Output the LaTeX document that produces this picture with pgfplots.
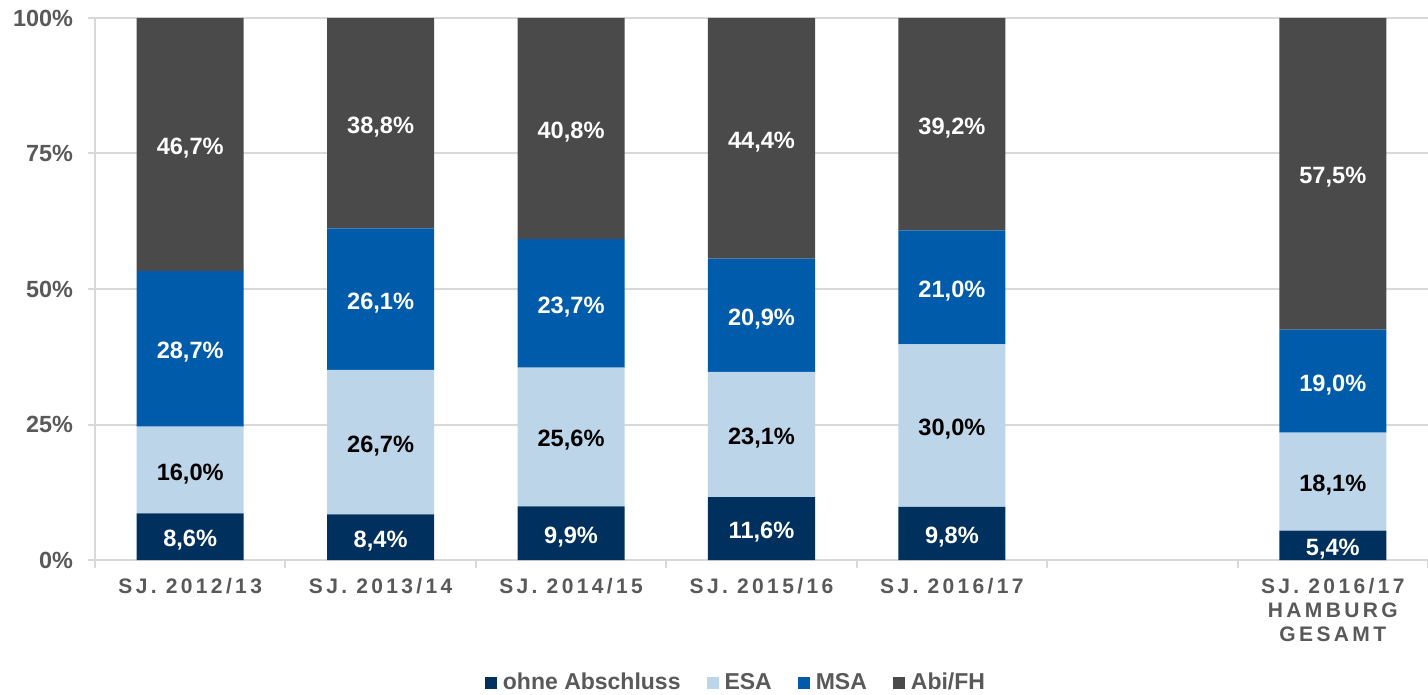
\documentclass[border=0pt]{standalone}
\usepackage{fontspec}
\setmainfont{Liberation Sans}
\newfontfamily\spacedfont[LetterSpace=16]{Liberation Sans}
\usepackage{pgfplots}
\usepackage{pgfplotstable}
\pgfplotsset{compat=1.18}
\definecolor{cOhne}{HTML}{00305E}
\definecolor{cEsa}{HTML}{BDD5E8}
\definecolor{cMsa}{HTML}{005BAA}
\definecolor{cAbi}{HTML}{4A4A4A}
\definecolor{txtgray}{HTML}{595959}
\definecolor{gridgray}{HTML}{D9D9D9}

\pgfplotstableread{
x ohne esa msa abi
0 8.6 16.0 28.7 46.7
1 8.4 26.7 26.1 38.8
2 9.9 25.6 23.7 40.8
3 11.6 23.1 20.9 44.4
4 9.8 30.0 21.0 39.2
6 5.4 18.1 19.0 57.5
}\data

\pgfplotsset{
  sqlegend/.style={legend image code/.code={\fill[##1] (0bp,-3bp) rectangle (6bp,3bp);}},
}

\begin{document}
\begin{tikzpicture}
\begin{axis}[
  at={(0,0)}, anchor=south west,
  scale only axis, width=666.5bp, height=271bp,
  ybar stacked, bar width=53.5bp,
  xmin=-0.5, xmax=6.5, ymin=0, ymax=100,
  axis lines=left,
  axis line style={-, draw=gridgray, line width=1bp},
  ymajorgrids, grid style={draw=gridgray, line width=1bp},
  ytick={0,25,50,75,100},
  yticklabels={0\%,25\%,50\%,75\%,100\%},
  tick align=outside,
  major tick length=3.5bp,
  minor tick length=4bp,
  major tick style={draw=gridgray, line width=1bp},
  minor tick style={draw=gridgray, line width=1bp},
  major x tick style={draw=none},
  xtick={0,1,2,3,4,6},
  minor xtick={-0.5,0.5,1.5,2.5,3.5,4.5,5.5,6.5},
  xticklabels={{SJ. 2012/13},{SJ. 2013/14},{SJ. 2014/15},{SJ. 2015/16},{SJ. 2016/17},{SJ. 2016/17\\HAMBURG\\GESAMT}},
  xticklabel style={font=\spacedfont\bfseries\fontsize{10.5bp}{12bp}\selectfont, text=txtgray, align=center, yshift=-2bp},
  yticklabel style={font=\bfseries\fontsize{11.7bp}{13bp}\selectfont, text=txtgray, xshift=-4bp},
  /pgf/number format/assume math mode=true,
  point meta=explicit,
  nodes near coords={\pgfmathprintnumber[fixed,fixed zerofill,precision=1,use comma]{\pgfplotspointmeta}\%},
  every node near coord/.append style={anchor=center, yshift=-1.8bp, font=\bfseries\fontsize{11.8bp}{13bp}\selectfont, text=white},
  legend columns=-1,
  legend style={at={(0.4816,-0.227)}, anchor=center, draw=none, fill=none,
     font=\bfseries\fontsize{11.5bp}{13bp}\selectfont, text=txtgray,
     /tikz/every even column/.append style={column sep=11bp},
     /tikz/every odd column/.append style={column sep=1bp}},
  clip=false,
]
\addplot[fill=cOhne, draw=none, sqlegend] table[x=x, y=ohne, meta=ohne] {\data};
\addplot[fill=cEsa, draw=none, sqlegend, every node near coord/.append style={text=black}] table[x=x, y=esa, meta=esa] {\data};
\addplot[fill=cMsa, draw=none, sqlegend] table[x=x, y=msa, meta=msa] {\data};
\addplot[fill=cAbi, draw=none, sqlegend] table[x=x, y=abi, meta=abi] {\data};
\legend{ohne Abschluss, ESA, MSA, Abi/FH}
\end{axis}
\pgfresetboundingbox
\path[use as bounding box] (-47.5bp,-67.5bp) rectangle (666.5bp,280bp);
\end{tikzpicture}
\end{document}
